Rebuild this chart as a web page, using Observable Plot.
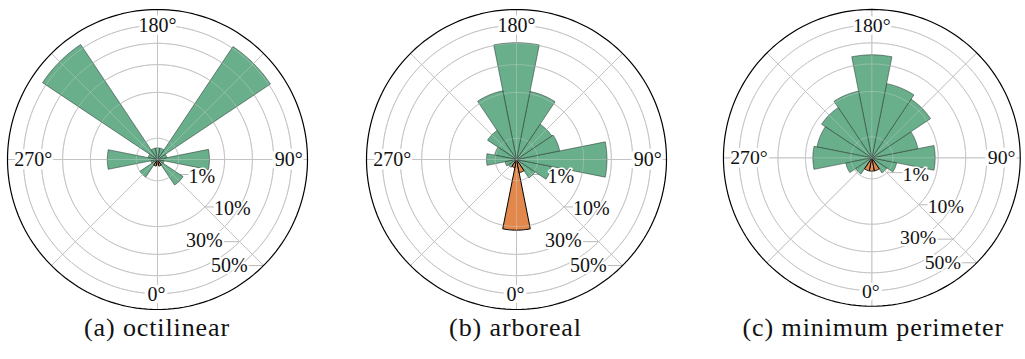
<!DOCTYPE html>
<html>
<head>
<meta charset="utf-8">
<script src="https://cdn.jsdelivr.net/npm/d3@7"></script>
<script src="https://cdn.jsdelivr.net/npm/@observablehq/plot@0.6"></script>
<style>
  html, body { margin: 0; padding: 0; background: #fff; }
  body { width: 1025px; height: 359px; position: relative; overflow: hidden; }
  .panel { position: absolute; top: 4px; }
  .cap { position: absolute; top: 315px; line-height: 26px; font-size: 26px; letter-spacing: 0.9px; white-space: nowrap; transform: translateX(-50%); color: #111; }
</style>
</head>
<body>
<script>
// ---- data (percent of edges per 22.5° direction bin) ----
const binAngles = [0, 22.5, 45, 67.5, 90, 112.5, 135, 157.5, 180, 202.5, 225, 247.5, 270, 292.5, 315, 337.5];
const panelTitles = ["(a) octilinear", "(b) arboreal", "(c) minimum perimeter"];
const octilinear   = [0.05, 0.1, 2.1, 0.1, 6.0, 0.2, 41.0, 0.3, 0.3, 0.3, 42.5, 0.2, 5.6, 0.1, 1.0, 0.1];
const arboreal     = [11.1, 0.4, 1.1, 2.8, 18.2, 4.3, 4.0, 10.7, 30.3, 10.9, 2.7, 1.1, 2.0, 0.3, 0.2, 0.15];
const minPerimeter = [0.4, 0.4, 0.75, 1.45, 9.1, 5.0, 11.3, 13.0, 24.1, 10.5, 8.3, 7.1, 7.9, 1.6, 0.86, 0.4];
const downwardBins = [337.5, 0, 22.5];
const ringTicks = [1, 10, 20, 30, 40];
const outerTick = 50;
const ringLabelTicks = [1, 10, 30, 50];
const spokeAngles = [0, 45, 90, 135, 180, 225, 270, 315];
const angleLabelTicks = [0, 90, 180, 270];

const series = [octilinear, arboreal, minPerimeter];

// ---- layout / style ----
const centersX = [157, 515.5, 873.3];
const half = 155;                       // half of svg size in px
const K = 150 / Math.sqrt(outerTick);   // px per sqrt(%) unit
const D = half / K;
const binWidth = 22.5;
const green = "#6aaf8c", orange = "#e3884d", gridColor = "#b8b8b8";
const fontStack = "'Liberation Serif', serif";
const angleLabelOffset = {0: [-1, 1], 90: [-3, 0], 180: [0, 0.5], 270: [10, 0]};
const pctLabelStyle = {
  1:  {anchor: "start", dx: 16, dy: 2},
  10: {anchor: "start", dx: 9,  dy: 2},
  30: {anchor: "end",   dx: -17, dy: -1},
  50: {anchor: "end",   dx: -16, dy: 0}
};

const rad = p => Math.sqrt(p);
const toXY = (deg, r) => [r * Math.sin(deg * Math.PI / 180), -r * Math.cos(deg * Math.PI / 180)];

function circlePts(ticks) {
  const pts = [];
  for (const t of ticks) for (let a = 0; a <= 360; a += 2) {
    const [x, y] = toXY(a, rad(t));
    pts.push({ring: t, x, y});
  }
  return pts;
}

function wedgePts(values) {
  const pts = [];
  values.forEach((v, i) => {
    const ang = binAngles[i], r = rad(v);
    const down = downwardBins.includes(ang);
    pts.push({bin: i, down, x: 0, y: 0});
    for (let k = 0; k <= 12; k++) {
      const a = ang - binWidth / 2 + (binWidth * k) / 12;
      const [x, y] = toXY(a, r);
      pts.push({bin: i, down, x, y});
    }
    pts.push({bin: i, down, x: 0, y: 0});
  });
  return pts;
}

const gridPts = circlePts(ringTicks);
const outerPts = circlePts([outerTick]);
const spokes = spokeAngles.map(a => { const [x, y] = toXY(a, rad(outerTick)); return {a, x, y}; });

const pctLabels = ringLabelTicks.map(t => {
  const [x0, y0] = toXY(45, rad(t));
  const s = pctLabelStyle[t];
  return {t, x0, y0, x1: x0 + s.dx / K, y1: y0, tx: x0 + s.dx / K, ty: y0 - s.dy / K, anchor: s.anchor, text: t + "%"};
});
const angLabels = angleLabelTicks.map(a => {
  const [x, y] = toXY(a, rad(40));
  const o = angleLabelOffset[a];
  return {a, x: x + o[0] / K, y: y - o[1] / K, text: a + "°"};
});

function textMarks(data, opts, halo) {
  return [
    Plot.text(data, {...opts, fill: "white", stroke: "white", strokeWidth: halo, strokeLinejoin: "round"}),
    Plot.text(data, {...opts, fill: "#111"})
  ];
}

series.forEach((vals, p) => {
  const wp = wedgePts(vals);
  const chart = Plot.plot({
    width: 2 * half, height: 2 * half, margin: 0,
    x: {domain: [-D, D], axis: null},
    y: {domain: [-D, D], axis: null},
    style: {fontFamily: fontStack, background: "transparent", overflow: "visible"},
    marks: [
      Plot.line(gridPts, {x: "x", y: "y", z: "ring", stroke: gridColor, strokeWidth: 1}),
      Plot.link(spokes, {x1: () => 0, y1: () => 0, x2: "x", y2: "y", stroke: gridColor, strokeWidth: 1}),
      Plot.link(pctLabels, {x1: "x0", y1: "y0", x2: "x1", y2: "y1", stroke: gridColor, strokeWidth: 1}),
      Plot.line(wp.filter(d => !d.down), {x: "x", y: "y", z: "bin", fill: green, stroke: "#1e2a24", strokeWidth: 0.5, curve: "linear"}),
      Plot.line(wp.filter(d => d.down), {x: "x", y: "y", z: "bin", fill: orange, stroke: "#000", strokeWidth: 1, curve: "linear"}),
      Plot.line(gridPts, {x: "x", y: "y", z: "ring", stroke: "#d8d8d8", strokeOpacity: 0.35, strokeWidth: 1}),
      Plot.link(spokes, {x1: () => 0, y1: () => 0, x2: "x", y2: "y", stroke: "#d8d8d8", strokeOpacity: 0.35, strokeWidth: 1}),
      Plot.line(outerPts, {x: "x", y: "y", stroke: "#000", strokeWidth: 1.2}),
      ...textMarks(pctLabels.filter(d => d.anchor === "start"), {x: "tx", y: "ty", text: "text", textAnchor: "start", fontSize: 20}, 3),
      ...textMarks(pctLabels.filter(d => d.anchor === "end"), {x: "tx", y: "ty", text: "text", textAnchor: "end", fontSize: 20}, 4),
      ...textMarks(angLabels, {x: "x", y: "y", text: "text", fontSize: 20}, 7)
    ]
  });
  chart.querySelectorAll("text, g").forEach(el => { el.style.fontFamily = fontStack; });
  const div = document.createElement("div");
  div.className = "panel";
  div.style.left = (centersX[p] - half) + "px";
  div.appendChild(chart);
  document.body.appendChild(div);

  const cap = document.createElement("div");
  cap.className = "cap";
  cap.style.left = centersX[p] + "px";
  cap.style.fontFamily = fontStack;
  cap.textContent = panelTitles[p];
  document.body.appendChild(cap);
});
</script>
</body>
</html>
